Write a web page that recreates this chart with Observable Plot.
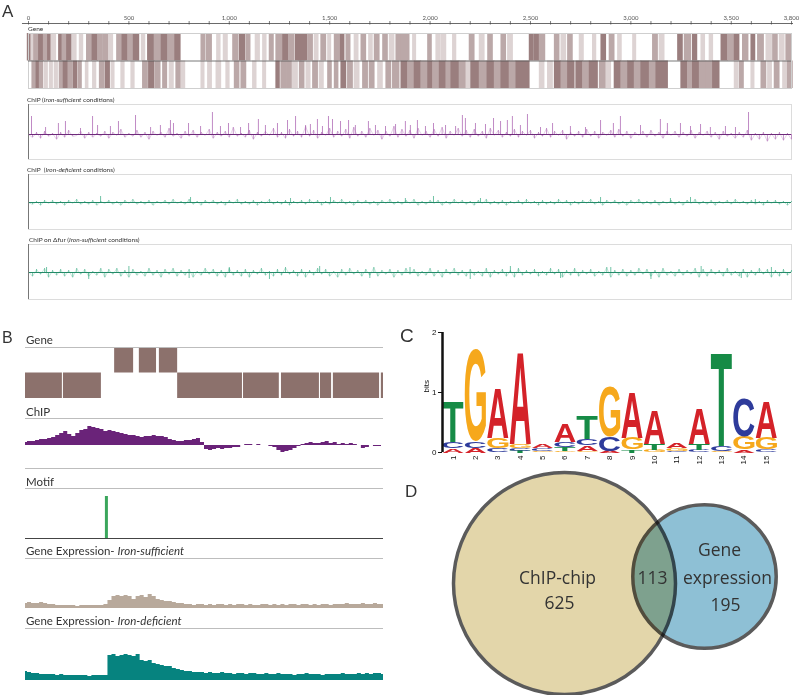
<!DOCTYPE html>
<html><head><meta charset="utf-8">
<script src="https://cdn.jsdelivr.net/npm/d3@7"></script>
<script src="https://cdn.jsdelivr.net/npm/@observablehq/plot@0.6"></script>
<style>
html,body{margin:0;padding:0;background:#fff;}
#fig{position:relative;width:800px;height:695px;overflow:hidden;}
.abs{position:absolute;white-space:nowrap;color:#333;}
svg{overflow:visible;}
</style></head><body><div id="fig"></div><script>
// ---------------- DATA ----------------
// Panel A: genome axis (kb)
const axisLabels = [0, 500, 1000, 1500, 2000, 2500, 3000, 3500, 3800];
const axisMinor = [0,100,200,300,400,500,600,700,800,900,1000,1100,1200,1300,1400,1500,1600,1700,1800,1900,2000,2100,2200,2300,2400,2500,2600,2700,2800,2900,3000,3100,3200,3300,3400,3500,3600,3700,3800];
// genes [start, end, shade(1 dark,2 mid,3 light)]
const geneTopA = [[0,13,1],[18,27,3],[32,46,2],[56,73,1],[80,93,2],[101,110,1],[118,134,3],[156,168,1],[173,189,2],[196,212,1],[222,236,3],[259,269,3],[295,312,2],[322,342,1],[350,367,2],[378,395,2],[408,418,3],[445,461,2],[471,491,1],[501,518,2],[528,548,1],[568,578,3],[599,624,1],[632,657,2],[667,690,1],[700,724,2],[734,754,1],[865,876,2],[890,910,2],[943,953,3],[976,989,3],[1023,1042,2],[1056,1076,1],[1089,1102,2],[1135,1149,3],[1172,1182,3],[1205,1218,2],[1238,1263,2],[1272,1291,1],[1301,1321,2],[1335,1355,1],[1363,1384,1],[1396,1413,2],[1429,1441,3],[1462,1479,2],[1496,1504,3],[1529,1545,2],[1557,1570,1],[1587,1600,2],[1628,1640,3],[1662,1678,2],[1700,1711,3],[1728,1745,2],[1770,1786,2],[1803,1819,3],[1836,1853,2],[1861,1894,2],[1919,1927,3],[1994,2005,2],[2035,2048,3],[2060,2077,3],[2118,2127,3],[2201,2218,2],[2251,2268,3],[2293,2309,2],[2359,2375,2],[2392,2409,3],[2500,2513,1],[2525,2541,1],[2550,2570,2],[2625,2641,2],[2658,2674,3],[2691,2707,2],[2749,2762,3],[2815,2824,3],[2857,2873,1],[2898,2915,2],[2940,2951,3],[3015,3023,3],[3114,3131,2],[3147,3164,3],[3239,3255,1],[3272,3297,2],[3313,3327,1],[3355,3366,3],[3396,3406,3],[3455,3479,1],[3488,3513,2],[3521,3537,1],[3562,3582,2],[3604,3616,1],[3637,3659,2],[3679,3699,3],[3712,3728,2],[3745,3762,3],[3778,3795,2]];
const geneBotA = [[23,33,2],[43,53,1],[60,70,2],[85,93,3],[110,118,3],[134,143,3],[159,169,2],[179,193,1],[203,217,2],[229,239,1],[252,262,2],[289,295,3],[325,334,3],[359,375,2],[388,402,1],[417,425,3],[466,475,3],[516,525,3],[574,591,2],[604,624,1],[637,654,2],[674,687,2],[707,720,3],[740,757,2],[765,777,3],[865,873,3],[898,910,3],[940,956,3],[989,998,3],[1031,1047,2],[1064,1081,2],[1122,1132,3],[1172,1180,3],[1238,1248,1],[1263,1280,2],[1291,1308,2],[1321,1338,3],[1355,1371,2],[1388,1401,3],[1421,1438,2],[1454,1467,3],[1496,1507,2],[1529,1540,2],[1562,1579,1],[1595,1612,2],[1628,1645,3],[1670,1687,2],[1703,1720,2],[1745,1761,3],[1786,1803,2],[1819,1844,2],[1861,1886,1],[1894,1919,2],[1927,1952,1],[1960,1985,2],[1994,2010,1],[2019,2043,2],[2052,2077,1],[2085,2102,2],[2110,2143,1],[2151,2176,2],[2185,2201,3],[2209,2243,1],[2251,2276,2],[2288,2317,1],[2326,2351,2],[2359,2392,1],[2400,2425,2],[2434,2492,1],[2550,2566,3],[2591,2608,3],[2625,2649,1],[2658,2683,2],[2691,2716,1],[2732,2757,1],[2766,2790,2],[2799,2832,1],[2849,2873,2],[2882,2898,3],[2923,2948,1],[2956,2981,2],[2990,3015,1],[3023,3048,2],[3056,3089,1],[3098,3122,2],[3131,3181,1],[3255,3280,1],[3288,3305,2],[3313,3338,1],[3347,3372,2],[3380,3405,2],[3413,3438,1],[3521,3532,3],[3546,3559,2],[3604,3612,3],[3654,3671,2],[3687,3699,3],[3720,3737,2],[3762,3778,3],[3786,3803,2]];
// ChIP signal every 20 kb (baseline-relative)
const chipSufficient = [0,-3,2,-4,3,-2,1,-5,2,-3, 4,-2,-1,3,-4,2,-3,1,-2,3, -4,2,-1,5,-3,1,-2,4,-3,2, -5,3,-1,2,-3,6,-2,1,-4,3, -2,4,-3,2,-1,5,-4,2,-2,3, -3,7,-2,1,-3,4,-5,2,-2,3, -1,6,-3,2,-4,5,-2,3,-3,8, -2,4,-4,2,-1,6,-3,3,-2,5, -4,7,-2,3,-3,6,-1,4,-5,3, -2,8,-3,5,-2,4,-4,6,-1,3, -3,5,-2,7,-4,3,-1,6,-2,4, -3,5,-2,3,-4,6,-1,4,-3,2, -2,5,-3,3,-1,4,-4,2,-2,6, -3,3,-1,4,-5,2,-2,3,-3,5, -2,3,-4,2,-1,4,-3,5,-2,3, -4,2,-1,3,-3,4,-2,2,-4,3, -1,3,-3,2,-2,4,-4,2,-1,3, -3,2,-5,3,-2,1,-4,2,-3,4, -6,1,-5,2,-7,1,-5,2,-6,1, -5];
const chipSufficientPeaks = [[15,18],[85,7],[149,11],[184,13],[259,6],[319,18],[344,9],[408,8],[448,13],[533,19],[608,7],[657,9],[707,14],[722,11],[797,11],[857,8],[916,22],[956,8],[996,11],[1056,7],[1096,11],[1145,15],[1180,9],[1240,11],[1290,14],[1330,18],[1380,9],[1404,10],[1439,15],[1464,8],[1494,18],[1514,15],[1554,13],[1594,14],[1628,9],[1693,13],[1728,9],[1778,8],[1828,10],[1877,13],[1902,9],[1937,14],[1977,8],[2017,11],[2077,9],[2127,8],[2161,19],[2176,16],[2226,11],[2276,10],[2316,16],[2351,13],[2385,14],[2410,18],[2450,9],[2485,20],[2550,7],[2610,11],[2699,8],[2774,7],[2849,14],[2913,11],[2948,18],[3048,9],[3147,15],[3182,11],[3247,11],[3297,8],[3347,10],[3396,7],[3471,8],[3521,7],[3586,22]];
const chipDeficient = [0,-2,1,-3,2,-1,2,-2,1,-3, 2,-1,3,-2,1,-2,2,-3,1,-1, 2,-2,1,-3,2,-1,3,-2,1,-2, 2,-3,1,-1,2,-2,3,-1,1,-2, 3,-2,1,-3,2,-1,2,-2,1,-3, 2,-1,3,-2,1,-2,2,-3,1,-1, 3,-2,1,-2,2,-3,1,-1,2,-2, 3,-1,2,-3,1,-2,2,-1,3,-2, 1,-3,2,-1,2,-2,1,-3,2,-1, 3,-2,1,-2,2,-1,3,-3,1,-2, 2,-1,2,-3,1,-2,3,-1,2,-2, 1,-3,2,-1,3,-2,1,-2,2,-3, 1,-1,2,-2,3,-1,1,-3,2,-2, 1,-2,3,-1,2,-3,1,-2,2,-1, 3,-2,1,-3,2,-1,2,-2,1,-3, 2,-1,3,-2,1,-2,2,-3,1,-1, 2,-2,1,-3,2,-1,3,-2,1,-2, 2,-3,1,-1,2,-2,3,-1,1,-2, 2,-2,1,-3,2,-1,2,-2,1,-3, 1];
const chipDeficientPeaks = [[359,6],[807,5],[1305,4],[1504,5],[1877,4],[2017,6],[2251,4],[2849,5],[3197,4],[3297,5],[3620,3]];
const chipFur = [1,-4,3,-2,4,-5,2,-3,3,-4, 2,-5,4,-2,3,-4,1,-3,4,-5, 3,-2,4,-4,2,-5,3,-3,1,-4, 4,-3,2,-5,3,-2,4,-4,2,-3, 3,-5,1,-3,4,-2,3,-4,2,-5, 4,-3,2,-4,3,-5,2,-2,4,-3, 1,-4,3,-3,5,-2,2,-4,3,-5, 2,-3,4,-2,3,-4,1,-5,3,-3, 4,-2,2,-4,3,-3,5,-4,2,-2, 3,-5,2,-3,4,-2,3,-4,1,-3, 4,-4,2,-5,3,-2,4,-3,2,-4, 3,-3,1,-4,4,-5,2,-2,3,-4, 2,-5,4,-3,2,-2,3,-4,1,-3, 4,-2,3,-5,2,-3,4,-4,2,-2, 3,-4,1,-3,5,-5,2,-3,3,-4, 2,-3,4,-2,3,-4,2,-5,4,-3, 1,-4,3,-3,2,-2,4,-5,3,-4, 3,-2,2,-4,4,-3,1,-4,3,-5, 2,-3,4,-2,3,-5,2,-4,3,-3, 2];
const chipFurPeaks = [[90,5],[300,-7],[500,6],[800,-6],[1000,5],[1200,-7],[1450,6],[1700,-6],[1900,5],[2200,-7],[2400,6],[2650,-6],[2900,5],[3100,-7],[3350,6],[3550,-6],[3700,5]];

// Panel B: region 0..1000
const geneTopB = [[249,302],[318,366],[374,425]];
const geneBotB = [[0,103],[106,212],[425,606],[609,709],[715,821],[824,855],[860,989],[994,1000]];
const chipB = [3,4,4,5,6,6,7,8,10,12, 14,11,9,12,15,16,19,18,17,16, 14,15,14,13,12,11,10,10,9,8, 9,9,10,9,9,8,6,5,4,4, 5,5,6,7,3,-4,-5,-4,-3,-4, -3,-3,-2,-2,0,1,1,0,1,0, 0,-1,-2,-5,-7,-6,-5,-3,-1,1, 2,3,2,2,3,4,2,3,1,2, 1,2,1,0,-3,-2,0,-1,-1,0];
const motifHits = [{pos: 226, score: 1}];
const exprSufficientB = [5,6,5,5,6,5,4,4,3,3, 3,3,3,2,3,3,3,3,3,3, 4,8,12,13,12,13,12,9,12,13, 11,14,12,9,8,7,7,6,5,5, 4,4,3,4,4,3,4,3,4,4, 3,4,3,4,4,3,4,3,3,4, 4,3,4,3,4,3,4,4,3,4, 4,3,4,3,4,4,3,4,4,4, 5,4,4,4,5,4,4,5,4,4];
const exprDeficientB = [9,8,7,7,6,6,6,6,5,6, 5,5,5,5,5,5,4,5,5,5, 5,25,26,24,25,26,25,24,26,20, 19,20,17,16,15,14,14,12,11,10, 9,9,8,8,8,7,8,7,7,8, 7,7,6,7,7,6,7,7,6,6, 7,6,6,7,6,6,6,5,6,6, 7,6,6,6,5,6,6,6,6,7, 6,6,6,7,6,7,6,7,7,6];

// Panel C: motif logo (bits, stacked bottom -> top)
const logoPositions = [1,2,3,4,5,6,7,8,9,10,11,12,13,14,15];
const logoStacks = [
  [["A",0.07],["C",0.10],["T",0.67]],
  [["A",0.08],["C",0.10],["G",1.54]],
  [["C",0.07],["G",0.17],["A",0.83]],
  [["T",0.03],["C",0.05],["G",0.06],["A",1.53]],
  [["G",0.03],["C",0.04],["A",0.06]],
  [["G",0.03],["T",0.06],["C",0.09],["A",0.31]],
  [["G",0.03],["A",0.09],["C",0.10],["T",0.38]],
  [["A",0.03],["C",0.23],["G",0.84]],
  [["T",0.05],["G",0.20],["A",0.75]],
  [["G",0.04],["T",0.10],["A",0.56]],
  [["C",0.03],["G",0.04],["A",0.08]],
  [["C",0.05],["T",0.10],["A",0.58]],
  [["G",0.03],["C",0.08],["T",1.56]],
  [["A",0.05],["G",0.22],["C",0.63]],
  [["C",0.05],["G",0.20],["A",0.60]]
];
const logoColors = {A: "#d42229", C: "#2e3b9b", G: "#f6a81c", T: "#168b46"};

// Panel D: Venn counts
const vennOnlyChip = 625, vennOnlyExpr = 195, vennBoth = 113;

// ---------------- LAYOUT / DRAW ----------------
const fig = document.getElementById("fig");
const baseStyle = {background: "transparent", overflow: "visible"};
function place(node, left, top) {
  node.style.position = "absolute"; node.style.left = left + "px"; node.style.top = top + "px";
  fig.appendChild(node); return node;
}
function label(html, x, baseline, fs, font, k) {
  const d = document.createElement("div");
  d.className = "abs"; d.innerHTML = html;
  d.style.fontFamily = font; d.style.fontSize = fs + "px"; d.style.lineHeight = fs + "px";
  d.style.left = x + "px"; d.style.top = (baseline - k * fs) + "px";
  fig.appendChild(d);
}
const LATO = "Lato, sans-serif", LIB = "'Liberation Sans', Arial, sans-serif";
label("A", 2, 17, 17, LIB, 0.846);
label("B", 2, 344, 16, LIB, 0.846);
label("C", 400, 342, 19, LIB, 0.846);
label("D", 405, 497, 17, LIB, 0.846);

// --- Panel A ---
const xA = {domain: [0, 3800], range: [28, 791], axis: null};
place(Plot.plot({
  width: 800, height: 30, marginTop: 23, marginLeft: 28, marginRight: 9, marginBottom: 0,
  style: {...baseStyle, fontSize: "6px", fontFamily: "Lato, sans-serif", color: "#555"},
  x: {domain: [0, 3800], range: [28, 791], axis: "top", ticks: axisLabels, tickFormat: d3.format(","), tickSize: 0, tickPadding: 4, label: null},
  y: {domain: [0, 1], range: [23, 30], axis: null},
  marks: [
    Plot.ruleY([0], {x1: -30, x2: 3810, stroke: "#444", strokeWidth: 0.8}),
    Plot.ruleX(axisMinor, {y1: -0.28, y2: 0.22, stroke: "#444", strokeWidth: 0.7})
  ]
}), 0, 0);

label("Gene", 28, 32, 6.5, LATO, 0.887);
const shadeA = {1: "#9a7e7e", 2: "#bba8a8", 3: "#ddd3d3"};
place(Plot.plot({
  width: 800, height: 55, marginTop: 0, marginBottom: 0, marginLeft: 28, marginRight: 9,
  style: baseStyle, x: xA, y: {domain: [0, 2], axis: null},
  marks: [
    Plot.rect(geneTopA, {x1: d => d[0], x2: d => d[1], y1: 1, y2: 2, fill: d => shadeA[d[2]], insetLeft: -1.2, insetRight: -1.2}),
    Plot.rect(geneBotA, {x1: d => d[0], x2: d => d[1], y1: 0, y2: 1, fill: d => shadeA[d[2]], insetLeft: -1.2, insetRight: -1.2}),
    Plot.frame({stroke: "#cfcfcf"}),
    Plot.ruleY([1], {stroke: "#555", strokeWidth: 0.8})
  ]
}), 0, 33);

function chipTrack(values, peaks, top, domain, light, dark) {
  place(Plot.plot({
    width: 800, height: 55, marginTop: 0, marginBottom: 0, marginLeft: 28, marginRight: 9,
    style: baseStyle, x: xA, y: {domain, axis: null},
    marks: [
      Plot.frame({stroke: "#dcdcdc"}),
      Plot.ruleX(values, {x: (d, i) => i * 20, y1: 0, y2: d => d, stroke: light, strokeWidth: 0.7}),
      Plot.line(values, {x: (d, i) => i * 20, y: d => d, stroke: light, strokeWidth: 0.5, strokeOpacity: 0.6}),
      Plot.ruleX(peaks, {x: d => d[0], y1: 0, y2: d => d[1], stroke: light, strokeWidth: 0.8}),
      Plot.ruleY([0], {stroke: dark, strokeWidth: 1.1}),
      Plot.ruleX([0], {stroke: "#777", strokeWidth: 1})
    ]
  }), 0, top);
}
label("ChIP (<i>Iron-sufficient</i> conditions)", 27, 102.5, 6.5, LATO, 0.887);
chipTrack(chipSufficient, chipSufficientPeaks, 104, [-25, 30], "#b06cb6", "#6e2a7b");
label("ChIP &nbsp;(<i>Iron-deficient</i> conditions)", 27, 172.5, 6.5, LATO, 0.887);
chipTrack(chipDeficient, chipDeficientPeaks, 174, [-27, 28], "#4db48f", "#238a68");
label("ChIP on Δfur (<i>Iron-sufficient</i> conditions)", 29, 242.5, 6.5, LATO, 0.887);
chipTrack(chipFur, chipFurPeaks, 244, [-27, 28], "#4db48f", "#238a68");

// --- Panel B ---
const xB = {domain: [0, 1000], range: [25, 383], axis: null};
const Bopts = {width: 400, marginTop: 0, marginBottom: 0, marginLeft: 25, marginRight: 17, style: baseStyle, x: xB};
const idxX = n => (d, i) => i * 1000 / (n - 1);
const geneB = "#8c716c", lineB = "#bdbdbd";
label("Gene", 26, 344, 11.5, LATO, 0.887);
place(Plot.plot({...Bopts, height: 51, y: {domain: [0, 2], axis: null},
  marks: [
    Plot.rect(geneTopB, {x1: d => d[0], x2: d => d[1], y1: 1, y2: 2, fill: geneB}),
    Plot.rect(geneBotB, {x1: d => d[0], x2: d => d[1], y1: 0, y2: 1, fill: geneB}),
    Plot.ruleY([2], {stroke: lineB})
  ]}), 0, 347);

label("ChIP", 26, 416.5, 11.5, LATO, 0.887);
place(Plot.plot({...Bopts, height: 50, y: {domain: [-23, 27], axis: null},
  marks: [
    Plot.areaY(chipB, {x: idxX(chipB.length), y: d => d, curve: "step", fill: "#6a2379"}),
    Plot.ruleY([27], {stroke: lineB}),
    Plot.ruleY([-23], {stroke: lineB})
  ]}), 0, 418);

label("Motif", 26, 486, 11.5, LATO, 0.887);
place(Plot.plot({...Bopts, height: 50, y: {domain: [0, 50 / 42], axis: null},
  marks: [
    Plot.ruleY([50 / 42], {stroke: lineB}),
    Plot.ruleX(motifHits, {x: "pos", y1: 0, y2: "score", stroke: "#3ba65c", strokeWidth: 3}),
    Plot.ruleY([0], {stroke: "#444", strokeWidth: 1})
  ]}), 0, 488);

label("Gene Expression- <i>Iron-sufficient</i>", 26, 555.5, 11.5, LATO, 0.887);
place(Plot.plot({...Bopts, height: 50, y: {domain: [0, 50], axis: null},
  marks: [
    Plot.ruleY([50], {stroke: lineB}),
    Plot.areaY(exprSufficientB, {x: idxX(exprSufficientB.length), y: d => d, curve: "step", fill: "#b8a99b"})
  ]}), 0, 558);

label("Gene Expression- <i>Iron-deficient</i>", 26, 625.5, 11.5, LATO, 0.887);
place(Plot.plot({...Bopts, height: 52, y: {domain: [0, 52], axis: null},
  marks: [
    Plot.ruleY([52], {stroke: lineB}),
    Plot.areaY(exprDeficientB, {x: idxX(exprDeficientB.length), y: d => d, curve: "step", fill: "#06837f"})
  ]}), 0, 628);

// --- Panel D: Venn ---
const vennTotals = [vennOnlyChip + vennBoth, vennOnlyExpr + vennBoth];
const bigC = [144, 123], smallC = [284, 116];
const vennFont = "'Open Sans', sans-serif";
const txt = (s, x, y) => Plot.text([s], {x, y, text: d => d, fontSize: 17.5, fontFamily: vennFont, fill: "#333"});
place(Plot.plot({
  width: 380, height: 235, margin: 0, style: baseStyle,
  x: {domain: [0, 380], range: [0, 380], axis: null},
  y: {domain: [0, 235], range: [0, 235], axis: null},
  r: {type: "sqrt", domain: [0, vennTotals[0]], range: [0, 111]},
  marks: [
    Plot.dot([vennTotals[0]], {x: bigC[0], y: bigC[1], r: d => d, fill: "#e3d6aa", stroke: "#5b5b5b", strokeWidth: 3.5}),
    Plot.dot([vennTotals[1]], {x: smallC[0], y: smallC[1], r: d => d, fill: "#8ec0d5", stroke: "#5b5b5b", strokeWidth: 3.5, mixBlendMode: "multiply"}),
    txt("ChIP-chip", bigC[0] - 7, bigC[1] - 5),
    txt(String(vennOnlyChip), bigC[0] - 5, bigC[1] + 20),
    txt(String(vennBoth), 232, smallC[1] + 2),
    txt("Gene", smallC[0] + 15, smallC[1] - 26),
    txt("expression", smallC[0] + 23, smallC[1] + 2),
    txt(String(vennOnlyExpr), smallC[0] + 21, smallC[1] + 29)
  ]
}), 420, 460);

// --- Panel C: sequence logo ---
const logoLetters = [];
logoStacks.forEach((stack, k) => {
  let y = 0;
  for (const [letter, bits] of stack) { logoLetters.push({pos: logoPositions[k], letter, y0: y, y1: y + bits}); y += bits; }
});
const logo = Plot.plot({
  width: 400, height: 152, marginLeft: 42, marginRight: 23, marginTop: 12, marginBottom: 20,
  style: {...baseStyle, fontSize: "8px", fontFamily: LIB, color: "#111"},
  x: {domain: [0.53, 15.5], axis: null},
  y: {domain: [0, 2], ticks: [0, 1, 2], tickSize: 4, tickPadding: 2, label: null, tickFormat: d => String(d)},
  marks: [
    Plot.text(logoLetters, {x: "pos", y: "y0", text: "letter", fill: d => logoColors[d.letter], fontSize: 100, fontWeight: "bold", fontFamily: "Liberation Sans", textAnchor: "start", lineAnchor: "bottom"}),
    Plot.ruleX([0.53], {y1: 0, y2: 2, stroke: "#111", strokeWidth: 2.5}),
    Plot.text(logoPositions, {x: d => d, y: 0, text: d => String(d), rotate: -90, textAnchor: "end", dy: 3, fontSize: 8, fill: "#111"}),
    Plot.text(["bits"], {frameAnchor: "left", dx: -16, rotate: -90, fontSize: 8, fill: "#111"})
  ]
});
place(logo, 400, 320);
(function stretchLetters() {
  const ctx = document.createElement("canvas").getContext("2d");
  ctx.font = "bold 100px 'Liberation Sans'";
  const met = {};
  for (const L of ["A", "C", "G", "T"]) met[L] = ctx.measureText(L);
  const mk = s => (s && s.apply ? (v => s.apply(v)) : d3.scaleLinear(s.domain, s.range));
  const xs = mk(logo.scale("x")), ys = mk(logo.scale("y"));
  const colW = xs(2) - xs(1), W = colW * 0.95;
  const letterEls = Array.from(logo.querySelectorAll("text")).filter(el => {
    const g = el.closest("g");
    return g && (g.getAttribute("font-size") === "100" || el.getAttribute("font-size") === "100");
  });
  letterEls.forEach((el, i) => {
    const d = logoLetters[i]; if (!d) return;
    const m = met[d.letter];
    const asc = m.actualBoundingBoxAscent, desc = m.actualBoundingBoxDescent;
    const left = m.actualBoundingBoxLeft, right = m.actualBoundingBoxRight;
    const X = xs(d.pos), Yb = ys(d.y0), Yt = ys(d.y1);
    const sy = (Yb - Yt) / (asc + desc), sx = W / (left + right), cx = (right - left) / 2;
    el.removeAttribute("y");
    el.setAttribute("transform", `translate(${X},${Yb}) scale(${sx},${sy}) translate(${-cx},${-desc})`);
  });
})();
</script></body></html>
